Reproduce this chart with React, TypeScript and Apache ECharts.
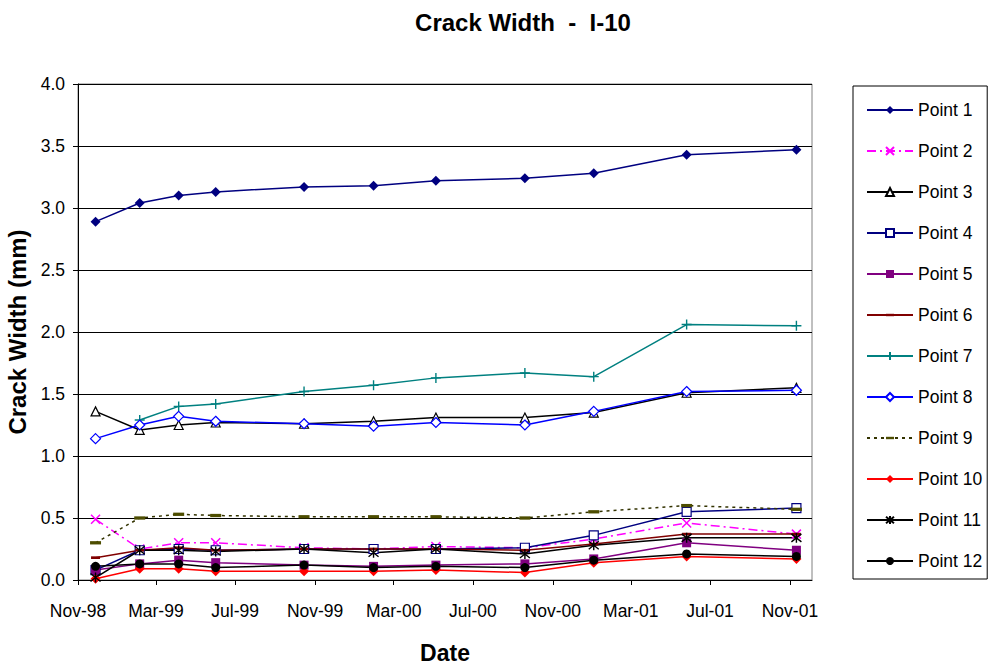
import React, { useEffect, useRef } from 'react';
import * as echarts from 'echarts';

const dates = ['1998-11-28', '1999-02-04', '1999-04-05', '1999-06-01', '1999-10-15', '2000-01-30', '2000-05-05', '2000-09-19', '2001-01-03', '2001-05-26', '2001-11-11'];
const tickDates = ['1998-11-01', '1999-03-01', '1999-07-01', '1999-11-01', '2000-03-01', '2000-07-01', '2000-11-01', '2001-03-01', '2001-07-01', '2001-11-01'];
const tickLabels = ['Nov-98', 'Mar-99', 'Jul-99', 'Nov-99', 'Mar-00', 'Jul-00', 'Nov-00', 'Mar-01', 'Jul-01', 'Nov-01'];
const xMinDate = '1998-11-01';
const xMaxDate = '2001-12-05';

const point1 = [2.89, 3.04, 3.10, 3.13, 3.17, 3.18, 3.22, 3.24, 3.28, 3.43, 3.47];
const point2 = [0.49, 0.25, 0.30, 0.30, 0.26, 0.25, 0.27, 0.26, 0.33, 0.46, 0.37];
const point3 = [1.36, 1.21, 1.25, 1.27, 1.26, 1.28, 1.31, 1.31, 1.35, 1.51, 1.55];
const point4 = [0.08, 0.24, 0.25, 0.24, 0.25, 0.25, 0.25, 0.26, 0.36, 0.55, 0.58];
const point5 = [0.08, 0.13, 0.16, 0.14, 0.12, 0.11, 0.12, 0.13, 0.17, 0.30, 0.24];
const point6 = [0.18, 0.24, 0.26, 0.24, 0.25, 0.25, 0.25, 0.24, 0.29, 0.37, 0.37];
const point7 = [null, 1.29, 1.40, 1.42, 1.52, 1.57, 1.63, 1.67, 1.64, 2.06, 2.05];
const point8 = [1.14, 1.25, 1.32, 1.28, 1.26, 1.24, 1.27, 1.25, 1.36, 1.52, 1.53];
const point9 = [0.30, 0.50, 0.53, 0.52, 0.51, 0.51, 0.51, 0.50, 0.55, 0.60, 0.57];
const point10 = [0.01, 0.09, 0.09, 0.07, 0.07, 0.07, 0.08, 0.06, 0.14, 0.19, 0.17];
const point11 = [0.02, 0.24, 0.24, 0.23, 0.25, 0.22, 0.25, 0.21, 0.28, 0.34, 0.34];
const point12 = [0.11, 0.13, 0.13, 0.10, 0.12, 0.10, 0.11, 0.10, 0.16, 0.21, 0.19];

const FONT = 'Liberation Sans, Arial, sans-serif';

// day offset from the axis origin date
function day(s: string): number {
  const [y, m, d] = s.split('-').map(Number);
  const [y0, m0, d0] = xMinDate.split('-').map(Number);
  return Math.round((Date.UTC(y, m - 1, d) - Date.UTC(y0, m0 - 1, d0)) / 86400000);
}

const tickDays = tickDates.map(day);

const X_PATH = 'path://M0 0L10 10M10 0L0 10';
const PLUS_PATH = 'path://M5 0L5 10M0 5L10 5';
const STAR_PATH = 'path://M0 1L10 9M10 1L0 9M5 0L5 10';
// flat bar inside a square bounding box (corner move-to points keep it square)
const DASH_PATH = 'path://M0 0M0 3.5L10 3.5L10 6.5L0 6.5ZM10 10';

function mk(name: string, values: (number | null)[], color: string, symbol: string, symbolSize: any, item: any, line: any = {}) {
  const data: [number, number][] = [];
  values.forEach((v, i) => {
    if (v !== null) data.push([day(dates[i]), v]);
  });
  return {
    name,
    type: 'line',
    data,
    symbol,
    symbolSize,
    showSymbol: true,
    lineStyle: { color, width: 1.5, ...line },
    itemStyle: item,
    emphasis: { disabled: true },
  };
}

export default function App() {
  const ref = useRef<HTMLDivElement>(null);
  useEffect(() => {
    const chart = echarts.init(ref.current!, null, { renderer: 'svg' });
    const option: any = {
      animation: false,
      backgroundColor: '#fff',
      textStyle: { fontFamily: FONT },
      graphic: [
        {
          type: 'text',
          x: 523,
          y: 22,
          style: {
            text: 'Crack Width  -  I-10',
            font: `bold 24px ${FONT}`,
            fill: '#000',
            textAlign: 'center',
            textVerticalAlign: 'middle',
          },
        },
      ],
      grid: {
        left: 78,
        right: 176,
        top: 84,
        bottom: 86,
        outerBoundsMode: 'none',
        containLabel: false,
        show: true,
        borderColor: '#808080',
        borderWidth: 1,
        backgroundColor: 'transparent',
      },
      legend: {
        orient: 'vertical',
        left: 853,
        top: 86,
        itemWidth: 46,
        itemHeight: 10,
        itemGap: 23,
        padding: [15, 5, 9, 13],
        borderColor: '#000',
        borderWidth: 1,
        selectedMode: false,
        textStyle: { fontFamily: FONT, fontSize: 17.5, color: '#000', lineHeight: 18 },
      },
      xAxis: {
        type: 'value',
        min: 0,
        max: day(xMaxDate),
        name: 'Date',
        nameLocation: 'middle',
        nameGap: 61,
        nameTextStyle: { fontFamily: FONT, fontSize: 23, fontWeight: 'bold', color: '#000', lineHeight: 23 },
        axisLine: { show: true, lineStyle: { color: '#000', width: 1 } },
        axisTick: { show: true, inside: false, length: 5, lineStyle: { color: '#000' }, customValues: tickDays },
        axisLabel: {
          fontFamily: FONT,
          fontSize: 17.5,
          color: '#000',
          margin: 22,
          customValues: tickDays,
          formatter: (v: number) => {
            let best = 0;
            let bd = Infinity;
            tickDays.forEach((t, i) => {
              const d = Math.abs(t - v);
              if (d < bd) { bd = d; best = i; }
            });
            return tickLabels[best];
          },
        },
        splitLine: { show: false },
      },
      yAxis: {
        type: 'value',
        min: 0,
        max: 4,
        interval: 0.5,
        name: 'Crack Width (mm)',
        nameLocation: 'middle',
        nameGap: 46,
        nameTextStyle: { fontFamily: FONT, fontSize: 24, fontWeight: 'bold', color: '#000' },
        axisLine: { show: true, lineStyle: { color: '#000', width: 1 } },
        axisTick: { show: true, length: 5, lineStyle: { color: '#000' } },
        axisLabel: {
          fontFamily: FONT,
          fontSize: 17.5,
          color: '#000',
          margin: 13,
          formatter: (v: number) => v.toFixed(1),
        },
        splitLine: { show: true, lineStyle: { color: '#000', width: 1 } },
      },
      series: [
        mk('Point 1', point1, '#000080', 'diamond', 10, { color: '#000080' }),
        mk('Point 2', point2, '#FF00FF', X_PATH, 9, { color: '#FF00FF', borderColor: '#FF00FF', borderWidth: 1.5 }, { type: [9, 4, 2, 4] }),
        mk('Point 3', point3, '#000000', 'triangle', 9, { color: '#ffffff', borderColor: '#000000', borderWidth: 1.2 }),
        mk('Point 4', point4, '#000080', 'rect', 9, { color: '#ffffff', borderColor: '#000080', borderWidth: 1.2 }),
        mk('Point 5', point5, '#800080', 'rect', 9, { color: '#800080' }),
        mk('Point 6', point6, '#800000', DASH_PATH, 9, { color: '#800000' }),
        mk('Point 7', point7, '#008080', PLUS_PATH, 10, { color: '#008080', borderColor: '#008080', borderWidth: 1.4 }),
        mk('Point 8', point8, '#0000FF', 'diamond', 10, { color: '#ffffff', borderColor: '#0000FF', borderWidth: 1.2 }),
        mk('Point 9', point9, '#333300', DASH_PATH, 11, { color: '#4d4d00' }, { type: [3, 4] }),
        mk('Point 10', point10, '#FF0000', 'diamond', 10, { color: '#FF0000' }),
        mk('Point 11', point11, '#000000', STAR_PATH, 10, { color: '#000000', borderColor: '#000000', borderWidth: 1.4 }),
        mk('Point 12', point12, '#000000', 'circle', 9, { color: '#000000' }),
      ],
    };
    chart.setOption(option);
    return () => chart.dispose();
  }, []);
  return (
    <div
      ref={ref}
      style={{ position: 'fixed', left: 0, top: 0, width: 988, height: 666, background: '#fff' }}
    />
  );
}
